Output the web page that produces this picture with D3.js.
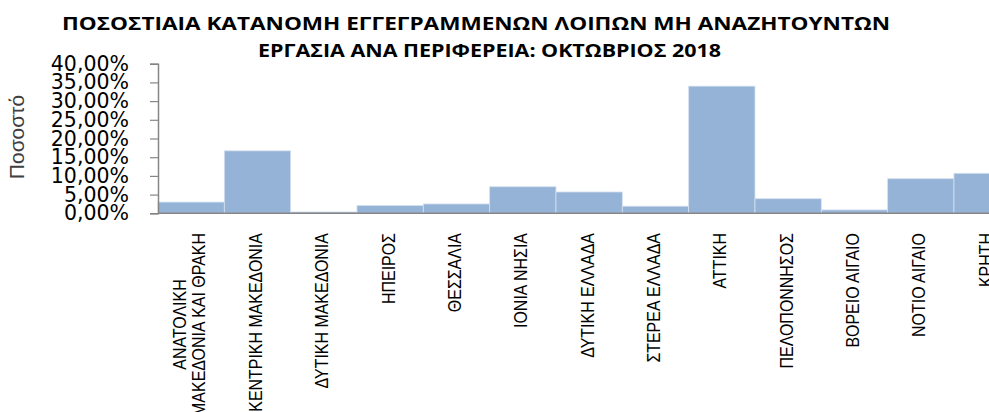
<!DOCTYPE html>
<html>
<head>
<meta charset="utf-8">
<script src="https://cdn.jsdelivr.net/npm/d3@7"></script>
<style>
  body { margin: 0; background: #fff; }
  svg { display: block; overflow: hidden; }
</style>
</head>
<body>
<div class="chart"></div>
<script>
// data
var regions = [
  "ΑΝΑΤΟΛΙΚΗ\nΜΑΚΕΔΟΝΙΑ ΚΑΙ ΘΡΑΚΗ",
  "ΚΕΝΤΡΙΚΗ ΜΑΚΕΔΟΝΙΑ",
  "ΔΥΤΙΚΗ ΜΑΚΕΔΟΝΙΑ",
  "ΗΠΕΙΡΟΣ",
  "ΘΕΣΣΑΛΙΑ",
  "ΙΟΝΙΑ ΝΗΣΙΑ",
  "ΔΥΤΙΚΗ ΕΛΛΑΔΑ",
  "ΣΤΕΡΕΑ ΕΛΛΑΔΑ",
  "ΑΤΤΙΚΗ",
  "ΠΕΛΟΠΟΝΝΗΣΟΣ",
  "ΒΟΡΕΙΟ ΑΙΓΑΙΟ",
  "ΝΟΤΙΟ ΑΙΓΑΙΟ",
  "ΚΡΗΤΗ"
];
var shares = [0.030, 0.167, 0.0035, 0.021, 0.025, 0.071, 0.057, 0.019, 0.340, 0.039, 0.009, 0.0925, 0.107];
var yTicks = [0, 0.05, 0.10, 0.15, 0.20, 0.25, 0.30, 0.35, 0.40];
var titleLines = [
  "ΠΟΣΟΣΤΙΑΙΑ ΚΑΤΑΝΟΜΗ ΕΓΓΕΓΡΑΜΜΕΝΩΝ ΛΟΙΠΩΝ ΜΗ ΑΝΑΖΗΤΟΥΝΤΩΝ",
  "ΕΡΓΑΣΙΑ ΑΝΑ ΠΕΡΙΦΕΡΕΙΑ: ΟΚΤΩΒΡΙΟΣ 2018"
];
var yTitle = "Ποσοστό";

var W = 989, H = 412;
var left = 158, top0 = 63.7, base = 213.3, band = 66.33;
var narrow = 0.84; // squeeze to look like a narrow face

var svg = d3.select(".chart")
  .append("svg")
  .attr("width", W)
  .attr("height", H);

var x = d3.scaleBand()
  .domain(regions)
  .range([left, left + band * regions.length])
  .padding(0);

var y = d3.scaleLinear()
  .domain([0, 0.40])
  .range([base, top0]);

// title, each line placed on its own
var titleX = [[62, 890], [258, 721]];
svg.selectAll(".title")
  .data(titleLines)
  .enter()
  .append("text")
  .attr("class", "title")
  .attr("x", function(d, i) { return titleX[i][0]; })
  .attr("y", function(d, i) { return i == 0 ? 30 : 57; })
  .attr("textLength", function(d, i) { return titleX[i][1] - titleX[i][0]; })
  .attr("lengthAdjust", "spacingAndGlyphs")
  .style("font-family", "'Open Sans', sans-serif")
  .style("font-weight", "bold")
  .style("font-size", "18.5px")
  .attr("fill", "#000")
  .text(function(d) { return d; });

// bars
svg.selectAll(".bar")
  .data(shares)
  .enter()
  .append("rect")
  .attr("class", "bar")
  .attr("x", function(d, i) { return x(regions[i]); })
  .attr("y", function(d) { return y(d); })
  .attr("width", x.bandwidth())
  .attr("height", function(d) { return base - y(d); })
  .attr("fill", "#95b3d7")
  .attr("stroke", "#d4e0ef")
  .attr("stroke-width", 0.8);

// y axis
var yAxis = d3.axisLeft(y)
  .tickValues(yTicks)
  .tickSize(8)
  .tickPadding(21)
  .tickFormat(function(d) { return d3.format(".2f")(d * 100).replace(".", ",") + "%"; });

var gy = svg.append("g")
  .attr("transform", "translate(" + left + ",0)")
  .call(yAxis);
gy.select(".domain").attr("stroke", "#868686").attr("stroke-width", 1.5);
gy.selectAll(".tick line").attr("stroke", "#868686").attr("stroke-width", 1.2);
gy.selectAll(".tick text")
  .style("font-family", "'DejaVu Sans', Verdana, sans-serif")
  .style("font-size", "20.5px")
  .attr("fill", "#000");

// baseline
svg.append("line")
  .attr("x1", left)
  .attr("x2", W)
  .attr("y1", base)
  .attr("y2", base)
  .attr("stroke", "#868686")
  .attr("stroke-width", 1.5);

// y axis title
svg.append("text")
  .attr("transform", "translate(24,137) rotate(-90)")
  .attr("text-anchor", "middle")
  .style("font-family", "'Liberation Sans', Arial, sans-serif")
  .style("font-size", "21px")
  .attr("fill", "#404040")
  .text(yTitle);

// category labels, rotated, top of the longest line at y=233
var labels = svg.selectAll(".xlab")
  .data(regions)
  .enter()
  .append("text")
  .attr("class", "xlab")
  .attr("text-anchor", "middle")
  .style("font-family", "'Liberation Sans', Arial, sans-serif")
  .style("font-size", "19px")
  .attr("fill", "#000");

labels.each(function(d) {
  var t = d3.select(this);
  var lines = d.split("\n");
  lines.forEach(function(s, k) {
    t.append("tspan")
      .attr("x", 0)
      .attr("dy", k == 0 ? (0.35 - (lines.length - 1) * 0.5) + "em" : "1em")
      .text(s);
  });
  var longest = d3.max(t.selectAll("tspan").nodes(), function(n) { return n.getComputedTextLength(); }) * narrow;
  var cx = x(d) + x.bandwidth() / 2 - 2;
  t.attr("transform", "translate(" + cx + "," + (233 + longest / 2) + ") rotate(-90) scale(" + narrow + ",1)");
});
</script>
</body>
</html>
